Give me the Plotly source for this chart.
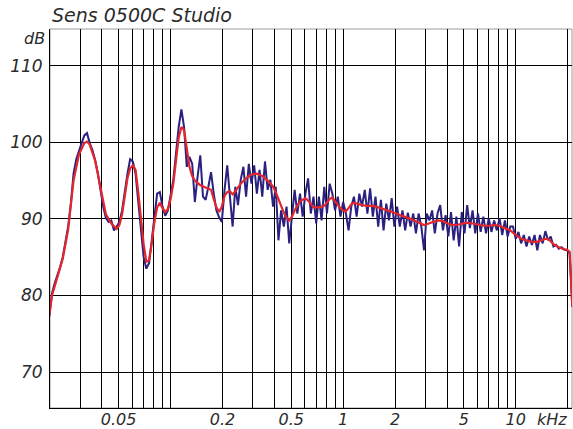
import plotly.graph_objects as go

# Raw frequency response (kHz, dB SPL)
raw_khz = [
    0.01981, 0.02054, 0.02129, 0.02207, 0.02288, 0.02371, 0.02458, 0.02548, 0.02642, 0.02738,
    0.02839, 0.02943, 0.03051, 0.03162, 0.03278, 0.03398, 0.03523, 0.03652, 0.03786, 0.03924,
    0.04068, 0.04217, 0.04371, 0.04532, 0.04698, 0.04870, 0.05048, 0.05233, 0.05425, 0.05623,
    0.05829, 0.06043, 0.06264, 0.06494, 0.06732, 0.06978, 0.07234, 0.07499, 0.07774, 0.08058,
    0.08354, 0.08660, 0.08977, 0.09306, 0.09647, 0.1000, 0.1037, 0.1075, 0.1114, 0.1155,
    0.1197, 0.1241, 0.1286, 0.1334, 0.1382, 0.1433, 0.1486, 0.1540, 0.1596, 0.1655,
    0.1715, 0.1778, 0.1843, 0.1911, 0.1981, 0.2054, 0.2129, 0.2207, 0.2288, 0.2371,
    0.2458, 0.2548, 0.2642, 0.2738, 0.2839, 0.2943, 0.3051, 0.3162, 0.3278, 0.3398,
    0.3523, 0.3652, 0.3786, 0.3924, 0.4068, 0.4217, 0.4371, 0.4532, 0.4698, 0.4870,
    0.5048, 0.5233, 0.5425, 0.5623, 0.5829, 0.6043, 0.6264, 0.6494, 0.6732, 0.6978,
    0.7234, 0.7499, 0.7774, 0.8058, 0.8354, 0.8660, 0.8977, 0.9306, 0.9647, 1.000,
    1.037, 1.075, 1.114, 1.155, 1.197, 1.241, 1.286, 1.334, 1.382, 1.433,
    1.486, 1.540, 1.596, 1.655, 1.715, 1.778, 1.843, 1.911, 1.981, 2.054,
    2.129, 2.207, 2.288, 2.371, 2.458, 2.548, 2.642, 2.738, 2.839, 2.943,
    3.051, 3.162, 3.278, 3.398, 3.523, 3.652, 3.786, 3.924, 4.068, 4.217,
    4.371, 4.532, 4.698, 4.870, 5.048, 5.233, 5.425, 5.623, 5.829, 6.043,
    6.264, 6.494, 6.732, 6.978, 7.234, 7.499, 7.774, 8.058, 8.354, 8.660,
    8.977, 9.306, 9.647, 10.00, 10.37, 10.75, 11.14, 11.55, 11.97, 12.41,
    12.86, 13.34, 13.82, 14.33, 14.86, 15.40, 15.96, 16.55, 17.15, 17.78,
    18.43, 19.11, 19.81, 20.54, 21.29,
]
raw_db = [
    77.3, 80.3, 81.6, 82.6, 83.7, 85.0, 86.8, 89.0, 92.0, 95.9,
    97.8, 99.0, 99.9, 100.9, 101.2, 99.9, 99.0, 97.7, 96.0, 93.8,
    91.6, 90.1, 89.6, 89.8, 88.5, 89.0, 89.6, 91.1, 93.8, 95.9,
    97.8, 97.5, 95.9, 92.5, 88.5, 85.0, 83.5, 84.2, 87.2, 90.7,
    93.3, 93.5, 91.6, 90.4, 91.1, 93.1, 95.1, 98.6, 102.0, 104.3,
    102.0, 96.8, 98.1, 97.2, 92.2, 95.5, 98.3, 92.9, 92.5, 94.2,
    96.1, 93.3, 91.1, 90.2, 89.6, 93.8, 97.0, 92.9, 89.0, 94.2,
    91.8, 95.1, 96.8, 92.9, 97.2, 94.6, 97.0, 93.3, 96.4, 92.9,
    97.5, 93.8, 95.1, 91.6, 94.2, 87.2, 91.1, 89.0, 91.6, 86.8,
    90.3, 93.8, 90.7, 93.3, 90.3, 93.3, 95.3, 90.7, 92.9, 89.4,
    92.9, 89.8, 94.2, 90.7, 94.6, 93.3, 91.1, 92.9, 90.3, 92.2,
    90.7, 88.5, 91.6, 92.9, 90.3, 93.3, 91.6, 93.8, 90.7, 94.0,
    90.3, 92.9, 89.0, 92.5, 88.5, 92.0, 89.8, 92.7, 89.0, 91.6,
    89.0, 91.1, 88.5, 90.8, 89.0, 90.7, 88.1, 90.7, 89.0, 85.9,
    90.7, 89.8, 91.1, 88.1, 90.7, 91.8, 88.5, 90.5, 87.7, 90.9,
    87.2, 90.3, 86.4, 90.9, 88.1, 91.8, 88.8, 91.1, 88.1, 90.7,
    88.3, 90.3, 88.1, 90.1, 88.3, 89.8, 88.5, 90.1, 87.9, 89.8,
    87.7, 89.0, 89.0, 87.4, 88.3, 86.8, 87.9, 86.4, 87.7, 86.6,
    87.9, 85.9, 87.9, 86.8, 88.4, 87.2, 87.7, 86.4, 86.6, 86.1,
    86.3, 86.0, 85.9, 85.5, 78.5,
]

# Smoothed response
smooth_khz = [
    0.01981, 0.02054, 0.02207, 0.02371, 0.02548, 0.02738, 0.02943, 0.03162, 0.03278, 0.03398,
    0.03652, 0.03924, 0.04217, 0.04532, 0.04870, 0.05048, 0.05233, 0.05623, 0.05829, 0.06043,
    0.06264, 0.06494, 0.06732, 0.06978, 0.07234, 0.07499, 0.07774, 0.08058, 0.08354, 0.08660,
    0.08977, 0.09306, 0.09647, 0.1000, 0.1037, 0.1075, 0.1114, 0.1155, 0.1197, 0.1241,
    0.1286, 0.1334, 0.1382, 0.1486, 0.1596, 0.1715, 0.1778, 0.1843, 0.1911, 0.1981,
    0.2054, 0.2129, 0.2207, 0.2288, 0.2371, 0.2458, 0.2548, 0.2738, 0.2943, 0.3162,
    0.3398, 0.3652, 0.3786, 0.3924, 0.4068, 0.4217, 0.4371, 0.4532, 0.4698, 0.4870,
    0.5048, 0.5233, 0.5623, 0.6043, 0.6264, 0.6494, 0.6732, 0.7234, 0.7774, 0.8354,
    0.8660, 0.8977, 0.9306, 0.9647, 1.000, 1.037, 1.075, 1.114, 1.155, 1.197,
    1.286, 1.382, 1.486, 1.596, 1.715, 1.843, 1.981, 2.129, 2.288, 2.458,
    2.642, 2.839, 2.943, 3.051, 3.278, 3.523, 3.786, 4.068, 4.217, 4.532,
    4.870, 5.233, 5.623, 6.043, 6.494, 6.978, 7.499, 8.058, 8.660, 9.306,
    10.00, 10.75, 11.55, 12.41, 13.34, 14.33, 14.86, 15.40, 15.96, 16.55,
    17.78, 19.11, 19.81, 20.54, 21.29,
]
smooth_db = [
    77.3, 80.0, 82.4, 84.8, 88.6, 95.0, 98.4, 99.9, 100.1, 99.7,
    97.6, 94.0, 90.6, 89.4, 88.7, 89.2, 90.6, 95.3, 96.6, 97.0,
    96.4, 93.5, 90.0, 86.7, 84.4, 84.6, 86.8, 89.6, 91.5, 92.1,
    91.4, 90.9, 91.3, 92.6, 94.6, 97.5, 100.6, 102.0, 101.6, 99.2,
    96.8, 95.6, 95.0, 94.4, 94.1, 93.8, 92.6, 91.5, 90.9, 91.6,
    93.0, 93.5, 93.6, 93.2, 93.6, 94.1, 94.6, 95.3, 95.8, 95.9,
    95.6, 95.0, 94.6, 94.2, 93.5, 92.6, 91.6, 90.8, 90.1, 89.8,
    90.3, 91.1, 92.3, 92.7, 92.4, 91.9, 91.5, 91.5, 91.7, 92.6,
    92.8, 92.3, 91.8, 91.4, 91.1, 91.0, 91.4, 91.9, 92.1, 92.0,
    91.8, 91.7, 91.7, 91.5, 91.3, 91.0, 90.8, 90.5, 90.3, 90.0,
    89.7, 89.3, 89.2, 89.3, 89.6, 89.8, 89.7, 89.3, 89.2, 89.2,
    89.4, 89.5, 89.4, 89.2, 89.1, 89.1, 89.2, 89.1, 88.8, 88.5,
    87.9, 87.4, 87.2, 87.0, 87.0, 87.3, 87.4, 87.4, 87.1, 86.7,
    86.3, 86.0, 86.0, 85.7, 78.5,
]

# Frequency grid lines and their labels
grid_khz = [0.03, 0.04, 0.05, 0.06, 0.07, 0.08, 0.09,
            0.1, 0.2, 0.3, 0.4, 0.5, 0.6, 0.7, 0.8, 0.9,
            1, 2, 3, 4, 5, 6, 7, 8, 9, 10, 20]
labelled_khz = {0.05: "0.05", 0.2: "0.2", 0.5: "0.5", 1: "1", 2: "2", 5: "5", 10: "10"}
grid_text = [labelled_khz.get(f, "") for f in grid_khz]

db_ticks = [70, 80, 90, 100, 110]

FONT = "DejaVu Sans"
TEXT_COLOR = "#2b2b2b"

fig = go.Figure()
fig.add_trace(go.Scatter(
    x=raw_khz, y=raw_db, mode="lines",
    line=dict(color="#2b2180", width=2),
    hoverinfo="skip",
))
fig.add_trace(go.Scatter(
    x=smooth_khz, y=smooth_db, mode="lines",
    line=dict(color="#e3262b", width=2.2),
    hoverinfo="skip",
))

fig.update_layout(
    width=573, height=429,
    margin=dict(l=50, r=1, t=29, b=21),
    paper_bgcolor="white", plot_bgcolor="white",
    showlegend=False,
    xaxis=dict(
        type="log", range=[-1.69897, 1.3263],
        tickvals=grid_khz, ticktext=grid_text,
        showgrid=True, gridcolor="#000000", gridwidth=1,
        showline=True, linecolor="#000000", linewidth=1,
        ticks="", zeroline=False, ticklabelstandoff=-3, automargin=False,
        tickfont=dict(family=FONT, size=16, color=TEXT_COLOR, style="italic"),
    ),
    yaxis=dict(
        range=[65.3, 114.8],
        tickvals=db_ticks,
        showgrid=True, gridcolor="#000000", gridwidth=1,
        showline=True, linecolor="#000000", linewidth=1,
        ticks="", zeroline=False, ticklabelstandoff=3, automargin=False,
        tickfont=dict(family=FONT, size=17, color=TEXT_COLOR, style="italic"),
    ),
    shapes=[dict(
        type="rect", xref="paper", yref="paper", x0=0, x1=1, y0=0, y1=1,
        line=dict(color="#9a9a9a", width=1), layer="below",
    )],
    annotations=[
        dict(text="Sens 0500C Studio", xref="paper", yref="paper",
             x=0.0, y=1.036, xanchor="left", yanchor="middle", showarrow=False,
             font=dict(family=FONT, size=19, color=TEXT_COLOR, style="italic")),
        dict(text="dB", xref="paper", yref="paper",
             x=-0.006, y=0.974, xanchor="right", yanchor="middle", showarrow=False,
             font=dict(family=FONT, size=16, color=TEXT_COLOR, style="italic")),
        dict(text="kHz", xref="paper", yref="paper",
             x=0.962, y=-0.03, xanchor="center", yanchor="middle", showarrow=False,
             font=dict(family=FONT, size=16, color=TEXT_COLOR, style="italic")),
    ],
)

fig.write_html("out.html")
